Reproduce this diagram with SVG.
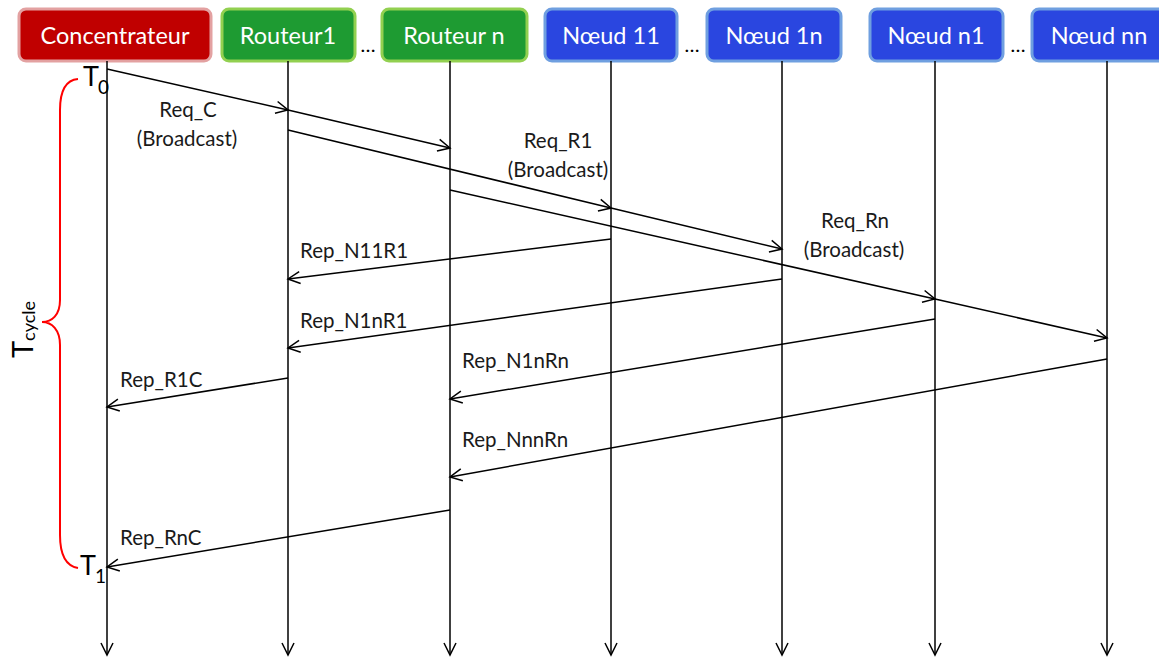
<svg xmlns="http://www.w3.org/2000/svg" width="1159" height="657" viewBox="0 0 1159 657">
<style>
.box{stroke-width:3}
.red{fill:#c00000;stroke:#e3a1a1}
.green{fill:#1e9b32;stroke:#92d050}
.blue{fill:#2a46e0;stroke:#6f9fe0}
.bt{font-family:Lato,"Liberation Sans",sans-serif;font-size:23.5px;fill:#ffffff;text-anchor:middle}
.dots{font-family:Lato,"Liberation Sans",sans-serif;font-size:20px;fill:#000;text-anchor:middle}
.lbl{font-family:Lato,"Liberation Sans",sans-serif;font-size:20.5px;fill:#1a1a1a}
.mid{text-anchor:middle}
.life{stroke:#000;stroke-width:1.5;fill:none;marker-end:url(#arr)}
.msg{stroke:#000;stroke-width:1.5;fill:none;marker-end:url(#arr)}
.tt{font-family:Lato,"Liberation Sans",sans-serif;fill:#000}
</style>
<defs>
<marker id="arr" markerUnits="userSpaceOnUse" markerWidth="16" markerHeight="16" viewBox="-14 -8 16 16" refX="0" refY="0" orient="auto" overflow="visible">
<path d="M-12,-6 L0,0 L-12,6" fill="none" stroke="#000" stroke-width="1.5"/>
</marker>
</defs>
<rect width="1159" height="657" fill="#ffffff"/>

<g id="node-concentrateur">
<rect class="box red" x="19" y="9" width="192" height="52" rx="7"/>
<text class="bt" x="115" y="44">Concentrateur</text>
</g>
<g id="node-routeur1">
<rect class="box green" x="222" y="9" width="133" height="52" rx="7"/>
<text class="bt" x="288" y="44">Routeur1</text>
</g>
<g id="node-routeurn">
<rect class="box green" x="382" y="9" width="145" height="52" rx="7"/>
<text class="bt" x="454" y="44">Routeur n</text>
</g>
<g id="node-noeud11">
<rect class="box blue" x="545" y="9" width="132" height="52" rx="7"/>
<text class="bt" x="611" y="44">Nœud 11</text>
</g>
<g id="node-noeud1n">
<rect class="box blue" x="707" y="9" width="134" height="52" rx="7"/>
<text class="bt" x="774" y="44">Nœud 1n</text>
</g>
<g id="node-noeudn1">
<rect class="box blue" x="870" y="9" width="133" height="52" rx="7"/>
<text class="bt" x="936" y="44">Nœud n1</text>
</g>
<g id="node-noeudnn">
<rect class="box blue" x="1032" y="9" width="140" height="52" rx="7"/>
<text class="bt" x="1099" y="44">Nœud nn</text>
</g>
<g id="ellipses">
<text class="dots" x="368" y="52">…</text>
<text class="dots" x="692" y="52">…</text>
<text class="dots" x="1018" y="52">…</text>
</g>

<g id="connectors">
<line class="life" x1="107" y1="61" x2="107" y2="655"/>
<line class="life" x1="288" y1="61" x2="288" y2="655"/>
<line class="life" x1="450" y1="61" x2="450" y2="655"/>
<line class="life" x1="611" y1="61" x2="611" y2="655"/>
<line class="life" x1="782" y1="61" x2="782" y2="655"/>
<line class="life" x1="935" y1="61" x2="935" y2="655"/>
<line class="life" x1="1107" y1="61" x2="1107" y2="655"/>

<line class="msg" x1="107" y1="69" x2="288" y2="110"/>
<line class="msg" x1="288" y1="110" x2="450" y2="148"/>
<line class="msg" x1="288" y1="130" x2="611" y2="208"/>
<line class="msg" x1="611" y1="208" x2="782" y2="249"/>
<line class="msg" x1="450" y1="190" x2="935" y2="299"/>
<line class="msg" x1="935" y1="299" x2="1107" y2="338"/>

<line class="msg" x1="611" y1="239" x2="288" y2="279"/>
<line class="msg" x1="782" y1="279" x2="288" y2="348"/>
<line class="msg" x1="935" y1="319" x2="450" y2="399"/>
<line class="msg" x1="1107" y1="359" x2="450" y2="477"/>
<line class="msg" x1="288" y1="378" x2="107" y2="407"/>
<line class="msg" x1="450" y1="510" x2="107" y2="567"/>
</g>

<g id="labels">
<text class="lbl mid" x="188" y="117">Req_C</text>
<text class="lbl mid" x="187" y="146">(Broadcast)</text>
<text class="lbl mid" x="558" y="148">Req_R1</text>
<text class="lbl mid" x="558" y="177">(Broadcast)</text>
<text class="lbl mid" x="855" y="228">Req_Rn</text>
<text class="lbl mid" x="854" y="257">(Broadcast)</text>
<text class="lbl" x="300" y="258">Rep_N11R1</text>
<text class="lbl" x="300" y="328">Rep_N1nR1</text>
<text class="lbl" x="462" y="368">Rep_N1nRn</text>
<text class="lbl" x="462" y="447">Rep_NnnRn</text>
<text class="lbl" x="120" y="387">Rep_R1C</text>
<text class="lbl" x="120" y="545">Rep_RnC</text>
</g>

<g id="tcycle">
<path d="M78,79 C66,80 60,90 60,110 L60,300 C60,315 52,322 42,322 C52,322 60,330 60,345 L60,535 C60,555 66,566 78,568" fill="none" stroke="#ff0000" stroke-width="2"/>
<text class="tt" font-size="29" transform="translate(33,358) rotate(-90)">T<tspan font-size="18" dy="2">cycle</tspan></text>
<text class="tt" font-size="27" x="83" y="86">T<tspan font-size="19" dx="-1" dy="8">0</tspan></text>
<text class="tt" font-size="27" x="80" y="575">T<tspan font-size="19" dx="-1" dy="8">1</tspan></text>
</g>
</svg>
